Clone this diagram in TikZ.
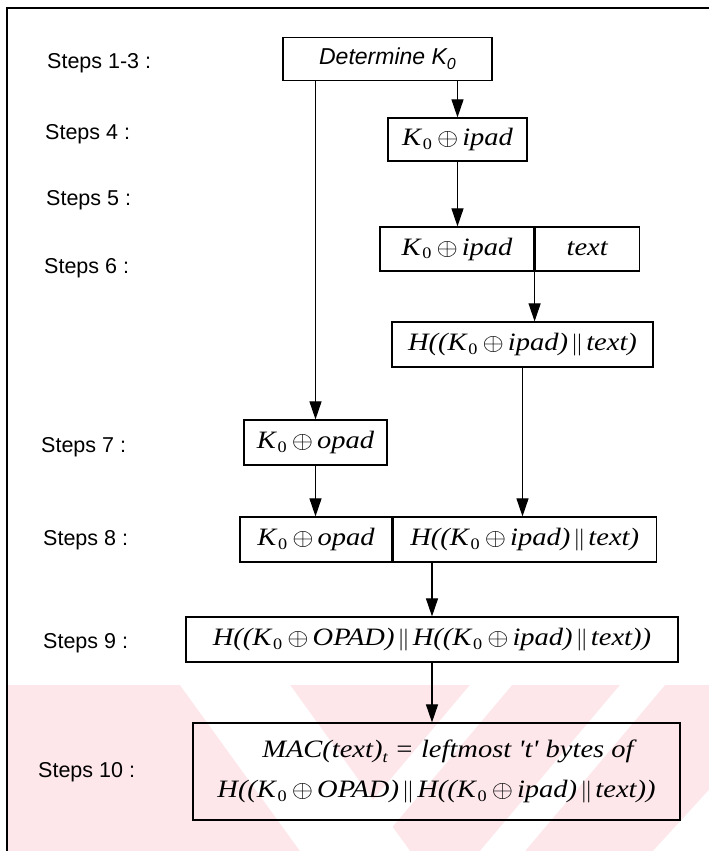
\documentclass[tikz,border=0pt]{standalone}
\usepackage{fix-cm}
\usepackage{fontspec}
\usepackage{graphicx}
\setmainfont{Liberation Serif}
\setsansfont{Liberation Sans}
\usetikzlibrary{arrows.meta}

\definecolor{wmpink}{RGB}{253,231,235}

% symbols used in the formulas
\newcommand{\Kz}{K\kern0.06em\raisebox{-0.32ex}{\upshape\fontsize{16}{16}\selectfont 0}}
\newcommand{\xo}{\kern0.18em{\upshape\fontsize{24}{24}\selectfont$\oplus$}\kern0.14em}
\newcommand{\cc}{\kern0.1em{\upshape\fontsize{22}{22}\selectfont$\Vert$}\kern0.1em}
% formulas are set a little wider than the plain font
\newcommand{\wf}[1]{\scalebox{1.14}[1]{#1}}

\tikzset{
  box/.style={draw, line width=1.2pt, inner sep=0pt, minimum height=45pt,
    font=\fontsize{25}{30}\selectfont\itshape},
  steplabel/.style={anchor=west, inner sep=0pt, font=\sffamily\fontsize{21.5}{24}\selectfont},
  arr/.style={line width=1.1pt, -{Triangle[length=18pt,width=12pt]}}
}

\begin{document}
\begin{tikzpicture}[x=1pt,y=-1pt]
\useasboundingbox (0,0) rectangle (709,851);
\fill[white] (0,0) rectangle (709,851);

% faint diagonal watermark in the lower part
\begin{scope}
  \clip (8,685) rectangle (709,851);
  \fill[wmpink] (8,685) rectangle (709,851);
  \fill[white] (180,685) -- (290,685) -- (410,851) -- (300,851) -- cycle;
  \fill[white] (470,685) -- (512,685) -- (372,851) -- (330,851) -- cycle;
  \fill[white] (620,685) -- (665,685) -- (525,851) -- (480,851) -- cycle;
  \fill[white] (805,685) -- (950,685) -- (800,851) -- (653,851) -- cycle;
\end{scope}

% frame
\draw[line width=1.2pt] (7,851) coordinate (fl) -- (7,8) coordinate (fc) -- (709,8) coordinate (fr);

% step labels
\node[steplabel] (s13) at (47,63)  {Steps 1-3 :};
\node[steplabel] (s4)  at (45,134) {Steps 4 :};
\node[steplabel] (s5)  at (46,200) {Steps 5 :};
\node[steplabel] (s6)  at (44,268) {Steps 6 :};
\node[steplabel] (s7)  at (41,447) {Steps 7 :};
\node[steplabel] (s8)  at (43,540) {Steps 8 :};
\node[steplabel] (s9)  at (43,643) {Steps 9 :};
\node[steplabel] (s10) at (38,772) {Steps 10 :};

% boxes
\node[box, minimum width=209pt, minimum height=43pt,
      font=\sffamily\itshape\fontsize{23}{26}\selectfont] (b1) at (387.5,59)
      {Determine K\raisebox{-0.4ex}{\fontsize{16}{16}\selectfont 0}};
\node[box, minimum width=139pt, minimum height=43pt] (b2) at (457.5,139.5) {\wf{\Kz\xo ipad}};
\node[box, minimum width=154pt, minimum height=44pt] (b3a) at (457,249) {\wf{\Kz\xo ipad}};
\node[box, minimum width=104pt, minimum height=44pt, anchor=west] (b3b) at (b3a.east) {\wf{text}};
\node[box, minimum width=261pt] (b4) at (522.5,344.5) {\wf{H((\Kz\xo ipad)\cc text)}};
\node[box, minimum width=143pt] (b7) at (315.5,442.5) {\wf{\Kz\xo opad}};
\node[box, minimum width=152pt] (b8a) at (316,539.5) {\wf{\Kz\xo opad}};
\node[box, minimum width=263pt, anchor=west] (b8b) at (b8a.east) {\wf{H((\Kz\xo ipad)\cc text)}};
\node[box, minimum width=492pt] (b9) at (432,639.5)
      {\wf{H((\Kz\xo OPAD)\cc H((\Kz\xo ipad)\cc text))}};
\node[box, minimum width=487pt, minimum height=97pt, align=center] (b10) at (436.5,771.5)
      {\wf{\hspace*{20pt}MAC(text)\raisebox{-0.45ex}{\fontsize{16}{16}\selectfont t} = leftmost
        \textquotesingle t\textquotesingle\ bytes of}\\[10pt]
       \wf{H((\Kz\xo OPAD)\cc H((\Kz\xo ipad)\cc text))}};

% connectors
\draw[arr] (b1.south -| b7.north) -- (b7.north);
\draw[arr] (b2.north |- b1.south) -- (b2.north);
\draw[arr] (b2.south) -- (b3a.north -| b2.south);
\draw[arr] (b3a.south east) -- (b4.north -| b3a.south east);
\draw[arr] (b4.south) -- (b8b.north -| b4.south);
\draw[arr] (b7.south) -- (b8a.north -| b7.south);
\draw[arr] (b9.north |- b8b.south) -- (b9.north);
\draw[arr] (b9.south) -- (b10.north -| b9.south);
\end{tikzpicture}
\end{document}
